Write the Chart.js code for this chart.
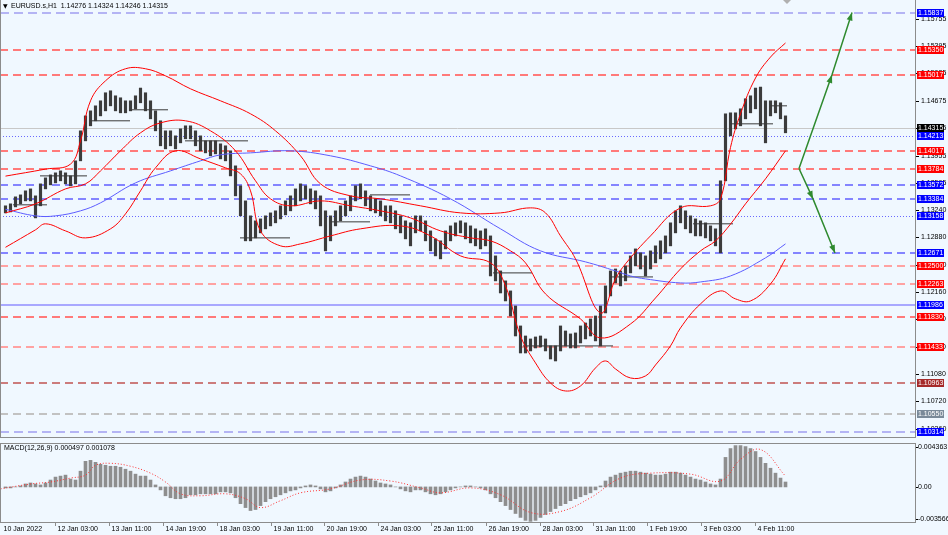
<!DOCTYPE html>
<html>
<head>
<meta charset="utf-8">
<script src="https://cdn.jsdelivr.net/npm/chart.js@4.4.0/dist/chart.umd.min.js"></script>
<style>
  html, body { margin:0; padding:0; background:#f0f8ff; }
  #wrap { position:relative; width:948px; height:535px; overflow:hidden; background:#f0f8ff; }
  #price { position:absolute; left:0; top:0; }
  #macd { position:absolute; left:0; top:440px; }
</style>
</head>
<body>
<div id="wrap">
  <canvas id="price" width="948" height="438"></canvas>
  <canvas id="macd" width="948" height="95"></canvas>
</div>
<script>
// EURUSD.s H1, one bar here = a 3 hour slice of the chart
var barHigh = [
  1.13293,1.13319,1.13411,1.13437,1.13490,1.13516,1.13424,1.13582,1.13661,1.13700,
  1.13727,1.13753,1.13727,1.13687,1.13885,1.14280,1.14477,1.14543,1.14609,1.14675,
  1.14781,1.14807,1.14741,1.14715,1.14675,1.14675,1.14741,1.14843,1.14781,1.14675,
  1.14543,1.14412,1.14280,1.14280,1.14214,1.14306,1.14346,1.14346,1.14280,1.14214,
  1.14148,1.14148,1.14148,1.14109,1.14083,1.14017,1.13819,1.13556,1.13358,1.13161,
  1.13095,1.13121,1.13161,1.13200,1.13227,1.13293,1.13358,1.13424,1.13516,1.13582,
  1.13556,1.13516,1.13490,1.13424,1.13227,1.13161,1.13227,1.13293,1.13358,1.13424,
  1.13556,1.13582,1.13490,1.13424,1.13385,1.13358,1.13293,1.13293,1.13227,1.13161,
  1.13095,1.13069,1.13161,1.13161,1.13095,1.12963,1.12858,1.12832,1.12963,1.13029,
  1.13069,1.13095,1.13069,1.13029,1.12990,1.12963,1.12990,1.12897,1.12634,1.12436,
  1.12305,1.12173,1.11975,1.11712,1.11580,1.11541,1.11567,1.11580,1.11541,1.11449,
  1.11449,1.11712,1.11646,1.11607,1.11620,1.11712,1.11751,1.11804,1.11843,1.11975,
  1.12239,1.12436,1.12462,1.12436,1.12502,1.12634,1.12726,1.12674,1.12634,1.12700,
  1.12766,1.12832,1.12897,1.13069,1.13227,1.13293,1.13227,1.13161,1.13121,1.13095,
  1.13069,1.13029,1.12990,1.13622,1.14504,1.14517,1.14517,1.14570,1.14702,1.14741,
  1.14843,1.14856,1.14675,1.14675,1.14675,1.14649,1.14477
];
var barLow = [
  1.13200,1.13213,1.13279,1.13319,1.13358,1.13358,1.13134,1.13293,1.13516,1.13569,
  1.13595,1.13622,1.13582,1.13556,1.13582,1.13885,1.14148,1.14346,1.14412,1.14477,
  1.14543,1.14609,1.14543,1.14517,1.14517,1.14543,1.14570,1.14649,1.14543,1.14438,
  1.14280,1.14083,1.14043,1.14083,1.14043,1.14122,1.14175,1.14175,1.14083,1.14017,
  1.13990,1.13951,1.13977,1.13911,1.13885,1.13687,1.13424,1.13161,1.12832,1.12832,
  1.12871,1.12937,1.12990,1.13029,1.13069,1.13121,1.13174,1.13227,1.13293,1.13358,
  1.13385,1.13319,1.13253,1.13029,1.12700,1.12832,1.13029,1.13095,1.13161,1.13227,
  1.13358,1.13385,1.13293,1.13227,1.13200,1.13161,1.13095,1.13069,1.12990,1.12937,
  1.12858,1.12766,1.12937,1.12963,1.12832,1.12700,1.12634,1.12595,1.12726,1.12832,
  1.12897,1.12937,1.12858,1.12805,1.12766,1.12726,1.12766,1.12370,1.12305,1.12146,
  1.12041,1.11843,1.11580,1.11356,1.11356,1.11383,1.11422,1.11435,1.11383,1.11277,
  1.11251,1.11383,1.11449,1.11422,1.11422,1.11488,1.11541,1.11580,1.11515,1.11449,
  1.11883,1.12107,1.12278,1.12239,1.12305,1.12410,1.12502,1.12462,1.12370,1.12462,
  1.12542,1.12595,1.12674,1.12766,1.12937,1.13069,1.12990,1.12937,1.12897,1.12897,
  1.12871,1.12832,1.12766,1.12674,1.13622,1.14214,1.14306,1.14346,1.14438,1.14517,
  1.14570,1.14346,1.14122,1.14477,1.14517,1.14438,1.14254
];

// bollinger bands and slow MA, read at a few bars each
var upperAt  = [0,8,13,15,17,20,24,28,32,37,43,49,54,59,63,69,75,83,91,99,105,108,111,114,119,122,124,129,135,141,143,145,147,150,153,156];
var upperVal = [1.13684,1.13776,1.13842,1.14148,1.14675,1.14938,1.15097,1.15097,1.15004,1.14833,1.14675,1.14504,1.14280,1.13951,1.13582,1.13424,1.13385,1.13293,1.13200,1.13200,1.13266,1.13200,1.12897,1.12595,1.11883,1.12331,1.12529,1.12897,1.13266,1.13293,1.13385,1.14062,1.14504,1.14975,1.15251,1.15436];
var midAt  = [0,6,12,16,19,23,27,31,36,41,46,50,53,57,63,69,75,81,87,93,97,101,104,108,115,119,125,130,135,139,142,145,148,152,156];
var midVal = [1.13200,1.13319,1.13516,1.13582,1.13753,1.14017,1.14254,1.14385,1.14412,1.14280,1.14017,1.13622,1.13385,1.13293,1.13358,1.13293,1.13227,1.13134,1.12963,1.12871,1.12832,1.12700,1.12542,1.12133,1.11804,1.11554,1.11738,1.12080,1.12462,1.12700,1.12832,1.13052,1.13319,1.13648,1.14017];
var lowerAt  = [0,6,8,12,16,21,24,27,30,34,39,44,47,49,51,55,59,65,71,79,85,91,97,100,103,106,109,112,115,118,120,122,125,128,130,133,135,139,143,146,149,153,156];
var lowerVal = [1.12747,1.12977,1.13056,1.12963,1.12871,1.12990,1.13187,1.13490,1.13793,1.14017,1.13911,1.13793,1.13714,1.13490,1.12963,1.12766,1.12792,1.12897,1.12990,1.13029,1.12897,1.12634,1.12542,1.12239,1.11580,1.11225,1.10961,1.10856,1.10922,1.11159,1.11251,1.11146,1.11027,1.11054,1.11198,1.11449,1.11686,1.12002,1.12173,1.12068,1.12041,1.12265,1.12595];
var maAt  = [0,6,10,15,19,26,33,39,43,49,57,65,73,79,89,99,107,116,122,125,128,135,139,145,152,156];
var maVal = [1.13247,1.13161,1.13161,1.13227,1.13332,1.13595,1.13753,1.13885,1.13964,1.13990,1.14017,1.13951,1.13819,1.13687,1.13385,1.12990,1.12700,1.12555,1.12436,1.12370,1.12331,1.12278,1.12291,1.12370,1.12608,1.12792];

// short dark open lines across the bars
var segStart = [1.5, 6.9, 16.9, 24.9, 35.9, 46.9, 64.9, 72.9, 97.5, 103.5, 120.9, 137.5, 144.9, 152.9];
var segEnd   = [8.3, 16.3, 24.9, 32.5, 48.5, 56.9, 72.9, 80.9, 105.3, 121.5, 129.5, 145.5, 153.5, 156.3];
var segPrice = [1.13306,1.13687,1.14412,1.14557,1.14148,1.12871,1.13082,1.13437,1.12410,1.11449,1.12357,1.13056,1.14372,1.14609];

// forecast arrows
var upArrowX = [158.7, 165.3, 169.3];
var upArrowY = [1.13784, 1.15017, 1.15837];
var dnArrowX = [158.7, 161.5, 165.9];
var dnArrowY = [1.13784, 1.13384, 1.12671];

// horizontal levels with their price boxes
var levelPrice = [1.15837,1.15350,1.15017,1.14213,1.14017,1.13784,1.13572,1.13384,1.13158,1.12671,1.12500,1.12263,1.11986,1.11830,1.11433,1.10963,1.10550,1.10314];
var levelKind  = ['bigblue','red','red','dotblue','red','red','blue','blue','dotblue','blue','pink','pink','solidblue','red','pink','brown','gray','bigblue'];
var bidPrice = 1.14315;
var priceTicks = [1.15755,1.15395,1.15035,1.14675,1.14315,1.13955,1.13595,1.13240,1.12880,1.12520,1.12160,1.11800,1.11440,1.11080,1.10720,1.10360];

// MACD histogram, one value per bar
var macdHist = [
  -0.0001,-0.0001,0.0000,0.0001,0.0003,0.0004,0.0003,0.0002,0.0004,0.0007,
  0.0010,0.0011,0.0012,0.0008,0.0007,0.0016,0.0026,0.0027,0.0025,0.0023,
  0.0022,0.0021,0.0021,0.0020,0.0018,0.0016,0.0013,0.0011,0.0011,0.0007,
  0.0002,-0.0003,-0.0009,-0.0011,-0.0012,-0.0012,-0.0011,-0.0008,-0.0008,-0.0007,
  -0.0007,-0.0007,-0.0007,-0.0005,-0.0005,-0.0006,-0.0011,-0.0017,-0.0021,-0.0024,
  -0.0023,-0.0019,-0.0015,-0.0012,-0.0010,-0.0008,-0.0006,-0.0004,-0.0003,-0.0001,
  0.0001,0.0002,0.0001,-0.0002,-0.0005,-0.0004,-0.0001,0.0002,0.0005,0.0008,
  0.0010,0.0011,0.0010,0.0008,0.0006,0.0004,0.0003,0.0002,0.0000,-0.0002,
  -0.0004,-0.0005,-0.0003,-0.0003,-0.0005,-0.0007,-0.0008,-0.0007,-0.0005,-0.0003,
  -0.0001,0.0000,0.0001,0.0001,0.0000,-0.0001,-0.0003,-0.0007,-0.0011,-0.0015,
  -0.0019,-0.0023,-0.0027,-0.0031,-0.0034,-0.0035,-0.0034,-0.0031,-0.0028,-0.0025,
  -0.0022,-0.0019,-0.0017,-0.0014,-0.0012,-0.0010,-0.0008,-0.0006,-0.0003,0.0001,
  0.0006,0.0010,0.0012,0.0014,0.0015,0.0016,0.0016,0.0015,0.0014,0.0013,
  0.0012,0.0012,0.0013,0.0015,0.0015,0.0014,0.0012,0.0010,0.0008,0.0007,
  0.0005,0.0003,0.0002,0.0008,0.0030,0.0039,0.0042,0.0042,0.0041,0.0039,
  0.0036,0.0030,0.0024,0.0019,0.0014,0.0009,0.0005
];
var signalAt  = [-1,5,9,13,16,18,21,25,29,32,35,39,44,48,51,55,59,65,71,77,83,87,93,99,105,111,117,123,129,137,143,147,151,156];
var signalVal = [-0.0002,0.0003,0.0005,0.0009,0.0012,0.0022,0.0024,0.0021,0.0014,0.0005,-0.0007,-0.0009,-0.0007,-0.0012,-0.0021,-0.0014,-0.0006,-0.0002,0.0007,0.0006,-0.0001,-0.0006,-0.0001,-0.0008,-0.0026,-0.0025,-0.0011,0.0009,0.0014,0.0013,0.0006,0.0028,0.0038,0.0011];
var macdTicks = [0.004363, 0.0, -0.003566];
var macdTickText = ['0.004363', '0.00', '-0.003566'];

var timeLabels = ['10 Jan 2022','12 Jan 03:00','13 Jan 11:00','14 Jan 19:00','18 Jan 03:00','19 Jan 11:00','20 Jan 19:00','24 Jan 03:00','25 Jan 11:00','26 Jan 19:00','28 Jan 03:00','31 Jan 11:00','1 Feb 19:00','3 Feb 03:00','4 Feb 11:00'];
var timeTickAt = [-0.9, 9.9, 20.7, 31.5, 42.3, 53.1, 63.7, 74.5, 85.1, 96.1, 106.9, 117.5, 128.3, 139.1, 149.9];

var FONT = '7px "Liberation Sans Narrow", "Liberation Sans", Arial, sans-serif';
var FRAME = '#8c8c8c';
var XMIN = -1.1, XMAX = 181.9;

// the screenshot was scaled down, so 1px MT4 lines show up as soft 2px lines
var styles = {
  bigblue:   { line:'#b4b4f4', w:2, dash:[9,5], box:'#0000ff' },
  red:       { line:'#ff7a7a', w:2, dash:[8,5], box:'#ff0000' },
  pink:      { line:'#ffa2a2', w:2, dash:[8,5], box:'#ff0000' },
  blue:      { line:'#8484ff', w:2, dash:[8,5], box:'#0000ff' },
  dotblue:   { line:'#6a6aff', w:1, dash:[1,2], box:'#0000ff' },
  solidblue: { line:'#a8a8ff', w:2, dash:[],    box:'#0000ff' },
  brown:     { line:'#cc7c7c', w:2, dash:[8,5], box:'#a52a2a' },
  gray:      { line:'#c2c2c2', w:2, dash:[8,5], box:'#7a8a99' }
};

function pts(xs, ys) {
  return xs.map(function (x, k) { return { x: x, y: ys[k] }; });
}

var bars = barHigh.map(function (h, i) { return { x: i, y: [barLow[i], h] }; });
var segs = [];
segStart.forEach(function (s, k) {
  segs.push({ x: s, y: segPrice[k] });
  segs.push({ x: segEnd[k], y: segPrice[k] });
  segs.push({ x: segEnd[k] + 0.01, y: null });
});

function drawBox(ctx, py, text, color) {
  ctx.fillStyle = color;
  ctx.fillRect(917, Math.round(py) - 4, 27, 8);
  ctx.fillStyle = '#ffffff';
  ctx.fillText(text, 918, Math.round(py) + 0.5);
}

var levelsPlugin = {
  id: 'levels',
  beforeDatasetsDraw: function (chart) {
    var ctx = chart.ctx, a = chart.chartArea, ys = chart.scales.y;
    ctx.save();
    levelPrice.forEach(function (p, k) {
      var s = styles[levelKind[k]];
      var py = Math.round(ys.getPixelForValue(p)) + (s.w === 1 ? 0.5 : 0);
      ctx.strokeStyle = s.line; ctx.lineWidth = s.w; ctx.setLineDash(s.dash);
      ctx.beginPath(); ctx.moveTo(a.left, py); ctx.lineTo(a.right, py); ctx.stroke();
    });
    var by = Math.round(ys.getPixelForValue(bidPrice)) + 0.5;
    ctx.setLineDash([]); ctx.strokeStyle = '#c8c8c8'; ctx.lineWidth = 1;
    ctx.beginPath(); ctx.moveTo(a.left, by); ctx.lineTo(a.right, by); ctx.stroke();
    ctx.restore();
  },
  afterDatasetsDraw: function (chart) {
    // arrow heads on the forecast lines
    var ctx = chart.ctx, xs = chart.scales.x, ys = chart.scales.y;
    ctx.save();
    ctx.fillStyle = '#2f8a2f';
    [[upArrowX, upArrowY], [dnArrowX, dnArrowY]].forEach(function (ar) {
      for (var j = 1; j < ar[0].length; j++) {
        var x0 = xs.getPixelForValue(ar[0][j - 1]), y0 = ys.getPixelForValue(ar[1][j - 1]);
        var x1 = xs.getPixelForValue(ar[0][j]), y1 = ys.getPixelForValue(ar[1][j]);
        var ang = Math.atan2(y1 - y0, x1 - x0);
        ctx.beginPath();
        ctx.moveTo(x1, y1);
        ctx.lineTo(x1 - 8 * Math.cos(ang) + 3 * Math.sin(ang), y1 - 8 * Math.sin(ang) - 3 * Math.cos(ang));
        ctx.lineTo(x1 - 8 * Math.cos(ang) - 3 * Math.sin(ang), y1 - 8 * Math.sin(ang) + 3 * Math.cos(ang));
        ctx.closePath();
        ctx.fill();
      }
    });
    ctx.restore();
  },
  afterDraw: function (chart) {
    var ctx = chart.ctx, a = chart.chartArea, ys = chart.scales.y, xs = chart.scales.x;
    ctx.save();
    // frame
    ctx.strokeStyle = FRAME; ctx.lineWidth = 1;
    ctx.beginPath();
    ctx.moveTo(0.5, 0); ctx.lineTo(0.5, a.bottom);
    ctx.moveTo(a.right + 0.5, 0); ctx.lineTo(a.right + 0.5, a.bottom);
    ctx.moveTo(0, a.bottom - 0.5); ctx.lineTo(a.right + 1, a.bottom - 0.5);
    ctx.stroke();
    // chart shift marker
    var sx = xs.getPixelForValue(156.3);
    ctx.fillStyle = '#b0b0b0';
    ctx.beginPath(); ctx.moveTo(sx - 4, 0); ctx.lineTo(sx + 4, 0); ctx.lineTo(sx, 4); ctx.closePath(); ctx.fill();
    // right scale
    ctx.font = FONT; ctx.textBaseline = 'middle'; ctx.textAlign = 'left';
    ctx.fillStyle = '#000';
    priceTicks.forEach(function (p) {
      var py = Math.round(ys.getPixelForValue(p)) + 0.5;
      ctx.fillRect(a.right + 1, py - 0.5, 3, 1);
      ctx.fillText(p.toFixed(5), a.right + 6, py);
    });
    levelPrice.forEach(function (p, k) {
      drawBox(ctx, ys.getPixelForValue(p), p.toFixed(5), styles[levelKind[k]].box);
    });
    drawBox(ctx, ys.getPixelForValue(bidPrice), bidPrice.toFixed(5), '#000000');
    // title
    ctx.fillStyle = '#000';
    ctx.font = '6px "DejaVu Sans", sans-serif';
    ctx.fillText('\u25BC', 3, 6);
    ctx.font = FONT;
    ctx.fillText('EURUSD.s,H1  1.14276 1.14324 1.14246 1.14315', 11, 6);
    ctx.restore();
  }
};

var priceChart = new Chart(document.getElementById('price'), {
  type: 'bar',
  data: {
    datasets: [
      { type: 'bar', data: bars, backgroundColor: '#3c3c3c', barThickness: 2.5, order: 5 },
      { type: 'line', data: segs, borderColor: '#3a3a3a', borderWidth: 1, pointRadius: 0, spanGaps: false, order: 4 },
      { type: 'line', data: pts(maAt, maVal), borderColor: '#5c5cff', borderWidth: 1, pointRadius: 0, tension: 0.4, order: 3 },
      { type: 'line', data: pts(upperAt, upperVal), borderColor: '#ff0000', borderWidth: 1, pointRadius: 0, tension: 0.4, order: 2 },
      { type: 'line', data: pts(midAt, midVal), borderColor: '#ff0000', borderWidth: 1, pointRadius: 0, tension: 0.4, order: 2 },
      { type: 'line', data: pts(lowerAt, lowerVal), borderColor: '#ff0000', borderWidth: 1, pointRadius: 0, tension: 0.4, order: 2 },
      { type: 'line', data: pts(upArrowX, upArrowY), borderColor: '#2f8a2f', borderWidth: 1.5, pointRadius: 0, order: 1 },
      { type: 'line', data: pts(dnArrowX, dnArrowY), borderColor: '#2f8a2f', borderWidth: 1.5, pointRadius: 0, order: 1 }
    ]
  },
  options: {
    responsive: false,
    animation: false,
    devicePixelRatio: 1,
    layout: { padding: { left: 0, right: 33, top: 0, bottom: 0 } },
    plugins: { legend: { display: false }, tooltip: { enabled: false } },
    scales: {
      x: { type: 'linear', min: XMIN, max: XMAX, offset: false, display: false },
      y: { min: 1.10237, max: 1.16002, display: false }
    }
  },
  plugins: [levelsPlugin]
});

var macdPlugin = {
  id: 'macdAxes',
  afterDraw: function (chart) {
    var ctx = chart.ctx, a = chart.chartArea, ys = chart.scales.y, xs = chart.scales.x;
    ctx.save();
    ctx.strokeStyle = FRAME; ctx.lineWidth = 1;
    ctx.beginPath();
    ctx.moveTo(0, a.top - 0.5); ctx.lineTo(a.right + 1, a.top - 0.5);
    ctx.moveTo(0.5, a.top); ctx.lineTo(0.5, a.bottom);
    ctx.moveTo(a.right + 0.5, a.top - 1); ctx.lineTo(a.right + 0.5, a.bottom);
    ctx.moveTo(0, a.bottom + 0.5); ctx.lineTo(a.right + 1, a.bottom + 0.5);
    ctx.stroke();
    ctx.font = FONT; ctx.textBaseline = 'middle'; ctx.textAlign = 'left'; ctx.fillStyle = '#000';
    macdTicks.forEach(function (v, k) {
      var py = ys.getPixelForValue(v);
      if (k === 0) py += 3;
      if (k === macdTicks.length - 1) py -= 3;
      ctx.fillRect(a.right + 1, Math.round(py), 2, 1);
      ctx.fillText(macdTickText[k], a.right + 3, py);
    });
    ctx.fillText('MACD(12,26,9) 0.000497 0.001078', 4, a.top + 4);
    timeLabels.forEach(function (t, k) {
      var px = Math.round(xs.getPixelForValue(timeTickAt[k])) + 0.5;
      if (k > 0) {
        ctx.beginPath(); ctx.moveTo(px, a.bottom + 1); ctx.lineTo(px, a.bottom + 4); ctx.stroke();
      }
      ctx.fillText(t, px + 2, a.bottom + 7);
    });
    ctx.restore();
  }
};

var macdChart = new Chart(document.getElementById('macd'), {
  type: 'bar',
  data: {
    datasets: [
      { type: 'line', data: pts(signalAt, signalVal), borderColor: '#ff3030', borderWidth: 1, borderDash: [1, 2], pointRadius: 0, tension: 0.4, order: 0 },
      { type: 'bar', data: macdHist.map(function (v, i) { return { x: i, y: v }; }), backgroundColor: '#8e8e8e', barThickness: 3, order: 1 }
    ]
  },
  options: {
    responsive: false,
    animation: false,
    devicePixelRatio: 1,
    layout: { padding: { left: 0, right: 33, top: 4, bottom: 13 } },
    plugins: { legend: { display: false }, tooltip: { enabled: false } },
    scales: {
      x: { type: 'linear', min: XMIN, max: XMAX, offset: false, display: false },
      y: { min: -0.003566, max: 0.004363, display: false }
    }
  },
  plugins: [macdPlugin]
});
</script>
</body>
</html>
